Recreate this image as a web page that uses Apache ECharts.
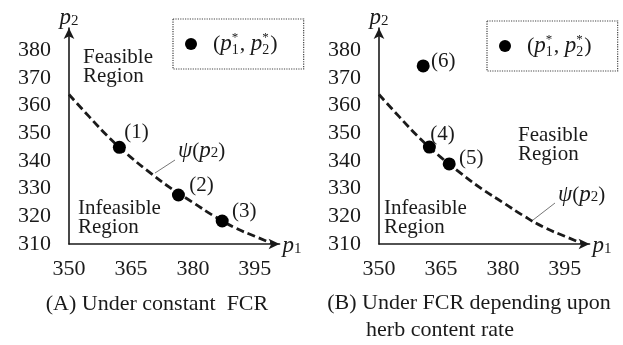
<!DOCTYPE html>
<html>
<head>
<meta charset="utf-8">
<script src="https://cdn.jsdelivr.net/npm/echarts@6/dist/echarts.min.js"></script>
<style>
html, body { margin: 0; padding: 0; background: #fff; }
#main { width: 623px; height: 345px; }
</style>
</head>
<body>
<div id="main"></div>
<script>
// boundary curve psi(p2), shared by both panels
var psiP1 = [350, 355, 360, 365, 370, 375, 380, 385, 390, 395, 399.5];
var psiP2 = [364, 355.8, 348, 341.3, 335.3, 329.8, 325, 320.2, 316, 312.8, 310];

// optimal points (p1*, p2*)
var ptsAP1 = [362.2, 376.5, 387.1];
var ptsAP2 = [344.9, 327.7, 318.3];
var ptsATag = ['(1)', '(2)', '(3)'];

var ptsBP1 = [362.2, 367.0, 360.7];
var ptsBP2 = [345.0, 338.9, 374.3];
var ptsBTag = ['(4)', '(5)', '(6)'];

var xMin = 350, xMax = 401, xStep = 15;
var yMin = 310, yMax = 388, yStep = 10;

var FONT = '"Liberation Serif", "Times New Roman", serif';
var INK = '#1a1a1a';

// label nudges for the point tags (not data, just placement)
var tagShiftA = [[17, -15], [23, -10], [22, -10]];
var tagShiftB = [[13, -13], [22, -5], [20, -4]];

function zip(a, b) {
	var out = [];
	for (var i = 0; i < a.length; i++) out.push([a[i], b[i]]);
	return out;
}

function pointData(p1, p2, tags, shifts) {
	var out = [];
	for (var i = 0; i < p1.length; i++) {
		out.push({
			value: [p1[i], p2[i]],
			name: tags[i],
			label: { offset: shifts[i] }
		});
	}
	return out;
}

var nameRich = {
	i: { fontFamily: FONT, fontStyle: 'italic', fontSize: 23, color: INK, lineHeight: 22 },
	s: { fontFamily: FONT, fontSize: 15, color: INK, verticalAlign: 'bottom', lineHeight: 12 }
};

function makeX(idx) {
	return {
		type: 'value', gridIndex: idx, min: xMin, max: xMax, interval: xStep,
		name: '{i|p}{s|1}', nameLocation: 'end', nameGap: 3,
		nameTextStyle: { rich: nameRich, padding: [4, 0, 0, 0] },
		axisLine: { lineStyle: { color: INK, width: 1.6 }, symbol: ['none', 'arrow'], symbolSize: [8, 11] },
		axisTick: { show: false },
		splitLine: { show: false },
		axisLabel: { showMaxLabel: false, margin: 14, fontFamily: FONT, fontSize: 22, color: INK }
	};
}

function makeY(idx) {
	return {
		type: 'value', gridIndex: idx, min: yMin, max: yMax, interval: yStep,
		name: '{i|p}{s|2}', nameLocation: 'end', nameGap: 10,
		nameTextStyle: { rich: nameRich, align: 'center', verticalAlign: 'middle' },
		axisLine: { lineStyle: { color: INK, width: 1.6 }, symbol: ['none', 'arrow'], symbolSize: [8, 11] },
		axisTick: { show: false },
		splitLine: { show: false },
		axisLabel: { showMaxLabel: false, margin: 18, fontFamily: FONT, fontSize: 22, color: INK }
	};
}

function curveSeries(idx) {
	return {
		type: 'line', xAxisIndex: idx, yAxisIndex: idx,
		data: zip(psiP1, psiP2), smooth: true, showSymbol: false, silent: true,
		lineStyle: { color: INK, width: 2.8, type: [8, 4] },
		z: 2
	};
}

function pointSeries(idx, data) {
	return {
		name: 'opt', type: 'scatter', xAxisIndex: idx, yAxisIndex: idx,
		data: data, symbol: 'circle', symbolSize: 13,
		itemStyle: { color: '#000', opacity: 1 },
		label: {
			show: true, position: 'inside', formatter: '{b}',
			fontFamily: FONT, fontSize: 21, color: INK,
			textBorderWidth: 0, textShadowBlur: 0, opacity: 1
		},
		emphasis: { disabled: true },
		z: 3
	};
}

var legendRich = {
	i: { fontFamily: FONT, fontStyle: 'italic', fontSize: 23, color: INK },
	s: { fontFamily: FONT, fontSize: 14, color: INK, verticalAlign: 'bottom', width: 0 },
	u: { fontFamily: FONT, fontSize: 13, color: INK, verticalAlign: 'top', width: 8 }
};

function makeLegend(left, top) {
	return {
		left: left, top: top, selectedMode: false,
		data: [{ name: 'opt', icon: 'circle' }],
		itemWidth: 34, itemHeight: 12,
		padding: [12, 26, 12, 12],
		borderColor: '#444', borderWidth: 1.2, borderType: 'dotted',
		formatter: function () { return '({i|p}{s|1}{u|*}, {i|p}{s|2}{u|*})'; },
		textStyle: { fontFamily: FONT, fontSize: 22, color: INK, rich: legendRich, lineHeight: 26 }
	};
}

function txt(x, y, text, extra) {
	var st = { text: text, x: x, y: y, fill: INK, fontFamily: FONT, fontSize: 21, lineHeight: 19, verticalAlign: 'top' };
	for (var k in extra) st[k] = extra[k];
	return { type: 'text', silent: true, style: st };
}

var psiRich = {
	g: { fontFamily: FONT, fontStyle: 'italic', fontSize: 23, color: INK },
	i: { fontFamily: FONT, fontStyle: 'italic', fontSize: 23, color: INK },
	s: { fontFamily: FONT, fontSize: 15, color: INK, verticalAlign: 'bottom' }
};
var psiText = '{g|ψ}({i|p}{s|2})';

var chart = echarts.init(document.getElementById('main'), null, { renderer: 'canvas' });
chart.setOption({
	backgroundColor: '#fff',
	animation: false,
	grid: [
		{ left: 69, top: 28, width: 210.6, height: 216 },
		{ left: 379, top: 28, width: 210.6, height: 216 }
	],
	xAxis: [makeX(0), makeX(1)],
	yAxis: [makeY(0), makeY(1)],
	legend: [makeLegend(173, 19), makeLegend(487, 21)],
	series: [
		curveSeries(0),
		pointSeries(0, pointData(ptsAP1, ptsAP2, ptsATag, tagShiftA)),
		curveSeries(1),
		pointSeries(1, pointData(ptsBP1, ptsBP2, ptsBTag, tagShiftB))
	],
	graphic: [
		txt(83, 48, 'Feasible\nRegion'),
		txt(78, 199, 'Infeasible\nRegion'),
		txt(518, 126, 'Feasible\nRegion'),
		txt(384, 199, 'Infeasible\nRegion'),
		txt(178, 151, psiText, { rich: psiRich, verticalAlign: 'middle' }),
		txt(558, 195, psiText, { rich: psiRich, verticalAlign: 'middle' }),
		{ type: 'line', silent: true, shape: { x1: 155, y1: 173, x2: 175, y2: 160 }, style: { stroke: '#777', lineWidth: 1 } },
		{ type: 'line', silent: true, shape: { x1: 533, y1: 220, x2: 555, y2: 203 }, style: { stroke: '#777', lineWidth: 1 } },
		txt(157, 304, '(A) Under constant  FCR', { fontSize: 22, align: 'center', verticalAlign: 'middle' }),
		txt(469, 303, '(B) Under FCR depending upon', { fontSize: 22, align: 'center', verticalAlign: 'middle' }),
		txt(440, 330, 'herb content rate', { fontSize: 22, align: 'center', verticalAlign: 'middle' })
	]
});
</script>
</body>
</html>
